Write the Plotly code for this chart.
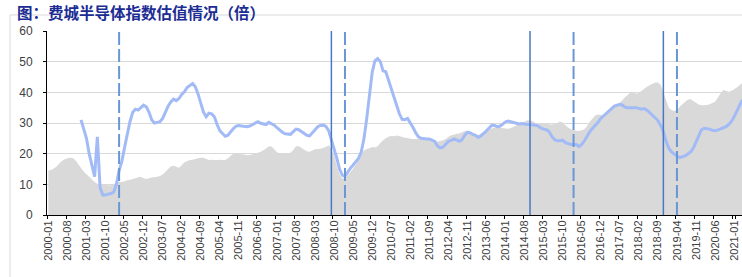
import plotly.graph_objects as go
import pandas as pd

# ---- data -------------------------------------------------------------
MONTHS = [p.strftime("%Y-%m") for p in pd.period_range("2000-01", "2021-04", freq="M")]

TICK_LABELS = ["2000-01", "2000-08", "2001-03", "2001-10", "2002-05", "2002-12",
               "2003-07", "2004-02", "2004-09", "2005-04", "2005-11", "2006-06",
               "2007-01", "2007-08", "2008-03", "2008-10", "2009-05", "2009-12",
               "2010-07", "2011-02", "2011-09", "2012-04", "2012-11", "2013-06",
               "2014-01", "2014-08", "2015-03", "2015-10", "2016-05", "2016-12",
               "2017-07", "2018-02", "2018-09", "2019-04", "2019-11", "2020-06",
               "2021-01"]

# grey area series, 2000-01 .. 2021-04
AREA_VALUES = [
    14.5, 14.7, 15.2, 15.8, 16.8, 17.6, 18.2, 18.5, 18.7, 18.6, 17.8, 16.6,  # 2000
    15.3, 14.2, 13.3, 12.5, 11.6, 10.8, 10.2, 9.9, 10.0, 10.1, 9.6, 9.8,     # 2001
    10.0, 10.5, 10.8, 10.8, 11.0, 11.3, 11.5, 11.7, 12.0, 12.3, 12.5, 12.0,  # 2002
    11.7, 12.0, 12.2, 12.3, 12.5, 12.7, 13.2, 14.0, 15.0, 15.8, 16.1, 15.7,  # 2003
    15.4, 16.2, 17.2, 17.5, 17.9, 18.0, 18.3, 18.5, 18.7, 18.7, 18.3, 17.9,  # 2004
    18.0, 17.9, 17.9, 18.0, 17.9, 17.9, 18.5, 19.3, 20.0, 20.1, 19.9, 19.8,  # 2005
    19.7, 19.5, 19.6, 19.8, 20.1, 20.3, 20.6, 21.1, 21.7, 22.4, 22.3, 21.4,  # 2006
    20.5, 20.1, 20.1, 20.2, 20.2, 20.3, 21.2, 22.4, 22.4, 21.9, 21.3, 20.8,  # 2007
    20.6, 21.0, 21.4, 21.5, 21.6, 21.9, 22.2, 22.8, 21.5, 19.5, 16.0, 13.2,  # 2008
    12.0, 11.8, 12.8, 14.0, 15.2, 16.5, 18.0, 19.8, 21.0, 21.5, 21.8, 22.2,  # 2009
    22.0, 22.4, 23.5, 24.4, 25.0, 25.5, 25.8, 25.7, 25.9, 25.8, 25.4, 25.2,  # 2010
    25.1, 24.9, 24.8, 24.8, 24.9, 24.8, 24.6, 24.7, 24.5, 24.2, 24.1, 23.9,  # 2011
    24.1, 24.4, 24.8, 25.4, 26.0, 26.2, 26.5, 26.6, 27.0, 27.4, 27.0, 26.6,  # 2012
    26.3, 26.2, 26.0, 26.6, 27.2, 27.6, 28.0, 28.2, 28.5, 28.8, 28.6, 28.3,  # 2013
    28.2, 28.1, 28.4, 28.8, 29.2, 29.6, 29.9, 30.4, 30.9, 30.8, 30.6, 30.0,  # 2014
    29.5, 29.8, 30.0, 29.8, 29.6, 29.5, 29.7, 30.0, 30.5, 30.2, 29.3, 28.5,  # 2015
    28.0, 27.7, 27.5, 27.4, 27.6, 28.0, 29.0, 30.5, 31.5, 32.5, 32.8, 32.6,  # 2016
    32.6, 33.5, 34.2, 34.6, 35.0, 35.8, 36.6, 37.5, 38.5, 39.2, 40.2, 40.0,  # 2017
    39.5, 39.8, 40.5, 41.2, 41.8, 42.3, 42.8, 43.2, 43.2, 42.5, 40.0, 37.5,  # 2018
    35.0, 34.2, 33.9, 34.3, 35.3, 36.1, 36.9, 37.6, 37.8, 37.2, 36.6, 36.0,  # 2019
    35.8, 35.8, 35.9, 36.1, 36.5, 36.9, 38.2, 39.6, 40.8, 40.5, 40.2, 40.5,  # 2020
    41.0, 41.6, 42.3, 43.0,                                                  # 2021
]

# blue valuation line, 2001-01 .. 2021-04
LINE_START = "2001-01"
LINE_VALUES = [
    31.0, 28.0, 25.0, 20.0, 16.0, 12.5, 25.5, 9.0, 6.5, 6.5, 6.8, 7.0,       # 2001
    7.5, 10.0, 14.5, 17.5, 22.0, 26.5, 30.5, 33.5, 34.5, 34.2, 35.0, 35.8,   # 2002
    35.3, 33.5, 31.0, 30.0, 30.2, 30.4, 31.5, 33.5, 35.5, 36.9, 37.8, 37.3,  # 2003
    38.0, 39.3, 40.2, 41.6, 42.2, 42.9, 41.8, 39.5, 36.5, 33.5, 32.0, 33.2,  # 2004
    33.0, 32.0, 29.5, 27.5, 26.6, 25.7, 26.0, 27.2, 28.2, 29.0, 29.2, 29.0,  # 2005
    28.8, 28.8, 29.0, 29.4, 30.0, 30.4, 29.9, 29.7, 29.5, 30.2, 29.8, 29.3,  # 2006
    28.5, 27.7, 27.0, 26.5, 26.5, 26.3, 27.2, 28.0, 27.8, 27.2, 26.6, 26.0,  # 2007
    25.8, 26.8, 28.0, 28.8, 29.2, 29.3, 28.9, 27.5, 24.5, 21.8, 18.5, 15.0,  # 2008
    13.0, 12.6, 14.0, 15.3, 16.3, 17.3, 18.5, 20.6, 25.0, 31.5, 39.5, 46.5,  # 2009
    50.3, 51.0, 50.0, 47.0, 46.7, 43.5, 41.2, 38.5, 35.5, 33.0, 31.2, 31.1,  # 2010
    31.5, 30.2, 28.5, 26.8, 25.5, 25.0, 24.8, 24.8, 24.8, 24.5, 24.0, 22.5,  # 2011
    21.9, 22.1, 23.0, 24.0, 24.3, 24.8, 24.5, 24.0, 24.5, 26.0, 27.0, 26.8,  # 2012
    26.3, 26.0, 25.3, 25.8, 26.6, 27.5, 28.4, 29.3, 29.2, 28.8, 29.0, 29.6,  # 2013
    30.4, 30.6, 30.4, 30.1, 29.9, 29.7, 29.8, 29.6, 29.5, 29.5, 29.5, 29.3,  # 2014
    29.0, 28.3, 28.0, 27.8, 27.2, 25.6, 24.6, 24.2, 24.2, 24.4, 23.6, 23.2,  # 2015
    23.0, 23.0, 23.0, 22.3, 23.0, 24.2, 25.8, 27.2, 28.3, 29.2, 30.2, 31.5,  # 2016
    32.3, 33.3, 34.0, 34.8, 35.5, 35.8, 36.1, 35.8, 35.1, 35.0, 35.1, 35.0,  # 2017
    35.0, 34.7, 34.5, 34.7, 34.2, 33.4, 32.5, 31.7, 30.8, 29.2, 27.2, 24.0,  # 2018
    21.8, 20.6, 19.8, 19.2, 18.7, 18.9, 19.3, 19.9, 20.6, 21.8, 24.0, 26.2,  # 2019
    27.8, 28.3, 28.2, 28.0, 27.6, 27.5, 27.7, 28.0, 28.3, 28.8, 29.5, 30.5,  # 2020
    32.0, 34.0, 35.8, 37.5,                                                  # 2021
]

SOLID_EVENTS = ["2008-09", "2014-10", "2018-11"]
DASHED_EVENTS = ["2002-03", "2009-02", "2016-02", "2019-04"]

TITLE = "图：费城半导体指数估值情况（倍）"

# ---- figure -----------------------------------------------------------
line_y = [None] * MONTHS.index(LINE_START) + LINE_VALUES

fig = go.Figure()
fig.add_trace(go.Scatter(
    x=MONTHS, y=AREA_VALUES, mode="none", fill="tozeroy",
    fillcolor="#d9d9d9", showlegend=False, hoverinfo="skip"))
fig.add_trace(go.Scatter(
    x=MONTHS, y=line_y, mode="lines",
    line=dict(color="#a2bbf6", width=3), showlegend=False))

shapes = []
for m in SOLID_EVENTS:
    i = MONTHS.index(m)
    shapes.append(dict(type="line", xref="x", yref="paper", x0=i, x1=i, y0=0, y1=1,
                       line=dict(color="#4a78c2", width=1.5)))
for m in DASHED_EVENTS:
    i = MONTHS.index(m)
    shapes.append(dict(type="line", xref="x", yref="paper", x0=i, x1=i, y0=0, y1=1,
                       line=dict(color="#6a96d6", width=2, dash="13px,4px")))
# chart border (Excel chart frame)
shapes.append(dict(type="line", xref="paper", yref="paper", x0=-0.0532, x1=1.0,
                   y0=1.087, y1=1.087, line=dict(color="#d9d9d9", width=1)))
shapes.append(dict(type="line", xref="paper", yref="paper", x0=-0.0532, x1=-0.0532,
                   y0=-0.34, y1=1.087, line=dict(color="#d9d9d9", width=1)))

fig.update_layout(
    width=742, height=277,
    margin=dict(l=47, r=0, t=31, b=62),
    paper_bgcolor="white", plot_bgcolor="white",
    font=dict(family="Arial, Liberation Sans, sans-serif", size=12, color="#404040"),
    shapes=shapes,
    annotations=[dict(text="<b>" + TITLE + "</b>", xref="paper", yref="paper",
                      x=-0.045, y=1.1685, xanchor="left", yanchor="top",
                      showarrow=False, borderpad=0,
                      font=dict(family="Noto Sans CJK SC", size=15.5, color="#1c2c94"))],
)
fig.update_xaxes(
    type="category", range=[-0.5, 254.9],
    tickmode="array", tickvals=TICK_LABELS, ticktext=TICK_LABELS,
    tickson="boundaries", tickangle=-90,
    ticks="outside", ticklen=3, tickcolor="black",
    showline=True, linecolor="black", linewidth=1,
    showgrid=False, zeroline=False,
    tickfont=dict(size=11, color="#404040"),
)
fig.update_yaxes(
    range=[0, 60], dtick=10, tick0=0,
    ticks="outside", ticklen=3, tickcolor="black",
    showline=True, linecolor="black", linewidth=1,
    showgrid=True, gridcolor="#d9d9d9", gridwidth=1,
    zeroline=False, ticklabelstandoff=8,
    tickfont=dict(size=12, color="#404040"),
)

fig.write_html("out.html")
